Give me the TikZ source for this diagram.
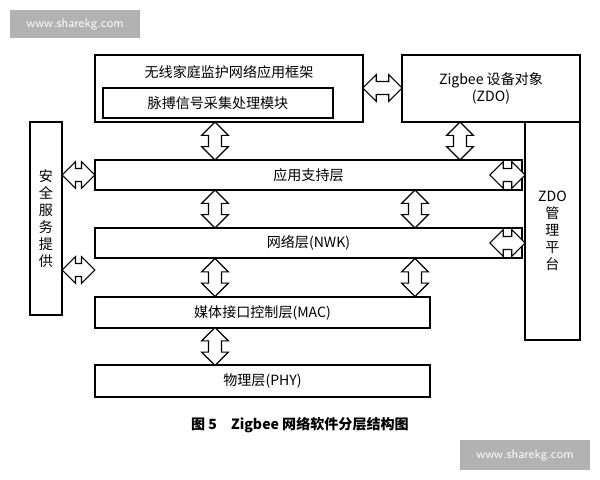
\documentclass[tikz,border=0pt]{standalone}
\usepackage{fontspec}
\setmainfont{Liberation Serif}
\newfontfamily\cjk{Noto Sans CJK SC}
\usetikzlibrary{shapes.arrows,calc}
\begin{document}
\begin{tikzpicture}[x=0.025cm,y=-0.025cm,
  layer/.style={draw,thick,font=\cjk,inner sep=0pt},
  harr/.style={double arrow,draw,thick,fill=white,minimum width=19pt,double arrow head extend=2.5pt,inner sep=2pt},
  varr/.style={harr,rotate=90}]
\useasboundingbox (0,0) rectangle (600,480);
% watermarks
\node[fill=gray!60,text=white,font=\sffamily\small,minimum width=3.25cm,minimum height=0.7cm] (wm1) at (75,24) {www.sharekg.com};
\node[fill=gray!60,text=white,font=\sffamily\small,minimum width=3.25cm,minimum height=0.75cm] (wm2) at (525,455) {www.sharekg.com};
% boxes
\draw[thick] (95,55) rectangle (363,122);
\node[font=\cjk] (app) at (229,72) {无线家庭监护网络应用框架};
\node[layer,minimum width=5.75cm,minimum height=0.75cm] (pulse) at (218,103) {脉搏信号采集处理模块};
\node[layer,minimum width=4.45cm,minimum height=1.675cm,align=center] (zdo) at (491,88.5) {Zigbee 设备对象\\(ZDO)};
\node[layer,minimum width=0.8cm,minimum height=4.825cm,align=center] (sec) at (46,218.5) {安\\全\\服\\务\\提\\供};
\node[layer,minimum width=1.375cm,minimum height=5.45cm,align=center] (mgr) at (552.5,231) {ZDO\\管\\理\\平\\台};
\node[layer,minimum width=10.675cm,minimum height=0.75cm] (aps) at (308.5,175) {应用支持层};
\node[layer,minimum width=10.675cm,minimum height=0.75cm] (nwk) at (308.5,243) {网络层(NWK)};
\node[layer,minimum width=8.375cm,minimum height=0.775cm] (mac) at (262.5,312.5) {媒体接口控制层(MAC)};
\node[layer,minimum width=8.375cm,minimum height=0.8cm] (phy) at (262.5,381) {物理层(PHY)};
% arrows
\node[harr,minimum height=0.98cm] (a1) at (382.5,88) {};
\node[varr,minimum height=0.95cm] (a2) at (215,141) {};
\node[varr,minimum height=0.95cm] (a3) at (460,141) {};
\foreach \x in {215,415} {
  \node[varr,minimum height=0.95cm] at (\x,209) {};
  \node[varr,minimum height=0.95cm] at (\x,277.5) {};
}
\node[varr,minimum height=0.95cm] (a4) at (215,346.5) {};
\node[harr,minimum height=0.82cm] (a5) at (78.5,175) {};
\node[harr,minimum height=0.82cm] (a6) at (78.5,270) {};
\node[harr,minimum height=0.88cm] (a7) at (507.5,175) {};
\node[harr,minimum height=0.88cm] (a8) at (507.5,243) {};
% caption
\node[font=\cjk\bfseries] (cap) at (300,425) {图 5\quad Zigbee 网络软件分层结构图};
\end{tikzpicture}
\end{document}
